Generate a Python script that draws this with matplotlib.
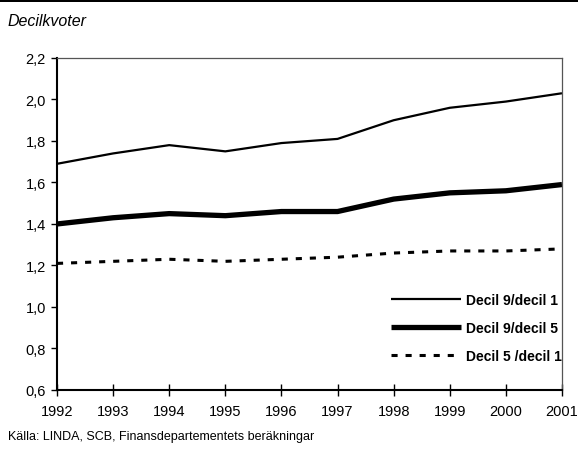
import matplotlib
matplotlib.use("Agg")
import matplotlib.pyplot as plt
from matplotlib.patches import Rectangle

years = [1992, 1993, 1994, 1995, 1996, 1997, 1998, 1999, 2000, 2001]
d9_d1 = [1.69, 1.74, 1.78, 1.75, 1.79, 1.81, 1.90, 1.96, 1.99, 2.03]
d9_d5 = [1.40, 1.43, 1.45, 1.44, 1.46, 1.46, 1.52, 1.55, 1.56, 1.59]
d5_d1 = [1.21, 1.22, 1.23, 1.22, 1.23, 1.24, 1.26, 1.27, 1.27, 1.28]
labels = ["Decil 9/decil 1", "Decil 9/decil 5", "Decil 5 /decil 1"]
yticks = [0.6, 0.8, 1.0, 1.2, 1.4, 1.6, 1.8, 2.0, 2.2]

plt.rcParams['font.family'] = ['Liberation Sans Narrow', 'Liberation Sans', 'DejaVu Sans']

fig = plt.figure(figsize=(5.78, 4.52), dpi=100)
ax = fig.add_axes([0.0986, 0.135, 0.8737, 0.7345])

l1, = ax.plot(years, d9_d1, color='black', lw=1.6, solid_capstyle='butt')
l2, = ax.plot(years, d9_d5, color='black', lw=3.8, solid_capstyle='butt')
l3, = ax.plot(years, d5_d1, color='black', lw=2.2, linestyle=(0, (2.0, 2.6)))

ax.set_xlim(1992, 2001)
ax.set_ylim(0.6, 2.2)
ax.set_xticks(years)
ax.set_xticklabels([str(y) for y in years], fontsize=10.5)
ax.set_yticks(yticks)
ax.set_yticklabels([f"{v:.1f}".replace('.', ',') for v in yticks], fontsize=10.5)
ax.tick_params(axis='x', direction='inout', length=8, width=1, pad=6)
ax.tick_params(axis='y', direction='out', length=4, width=1, pad=4)

for s in ['left', 'bottom']:
    ax.spines[s].set_linewidth(1.5)
    ax.spines[s].set_color('black')
for s in ['top', 'right']:
    ax.spines[s].set_linewidth(0.9)
    ax.spines[s].set_color('#555555')

leg = ax.legend([l1, l2, l3], labels, loc='lower left', bbox_to_anchor=(0.643, 0.052),
                frameon=False, handlelength=5.0, handletextpad=0.4, labelspacing=1.0,
                borderpad=0.2, prop={'weight': 'bold', 'size': 10})

fig.add_artist(Rectangle((0, 1 - 3 / 452), 1, 3 / 452, transform=fig.transFigure,
                         color='black', lw=0))
fig.text(8 / 578, 1 - 22 / 452, "Decilkvoter", fontsize=11.5, style='italic',
         va='center', ha='left')
fig.text(8 / 578, 1 - 437 / 452, "Källa: LINDA, SCB, Finansdepartementets beräkningar",
         fontsize=9, va='center', ha='left')

fig.savefig("out.png", dpi=100)
